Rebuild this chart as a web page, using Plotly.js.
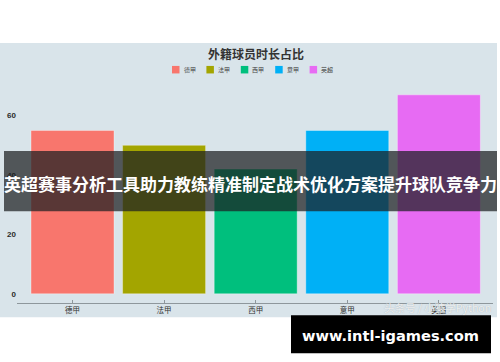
<!DOCTYPE html>
<html>
<head>
<meta charset="utf-8">
<script src="https://cdn.plot.ly/plotly-3.0.1.min.js"></script>
<style>
  html, body { margin: 0; padding: 0; background: #ffffff; }
  #chart { width: 500px; height: 362px; }
</style>
</head>
<body>
<div id="chart"></div>
<script>
// League names, their share of minutes played by foreign players, and bar colours
const leagues = ['德甲', '法甲', '西甲', '意甲', '英超'];
const shares = [55, 50, 42, 55, 67];
const leagueColors = ['#F8766D', '#A3A500', '#00BF7D', '#00B0F6', '#E76BF3'];
const yTicks = [0, 20, 40, 60];

const chartTitle = '外籍球员时长占比';
const bannerText = '英超赛事分析工具助力教练精准制定战术优化方案提升球队竞争力';
const siteText = 'www.intl-igames.com';
const creditText = '头条号 / 小猿学Python';

// Canvas geometry (pixels)
const W = 500, H = 362;
const M = { l: 17, r: 7, t: 80, b: 59.3 };
const plotW = W - M.l - M.r;
const plotH = H - M.t - M.b;
// pixel -> paper coordinate helpers
const px = x => (x - M.l) / plotW;
const py = y => (H - M.b - y) / plotH;

const CJK = '"Noto Sans CJK SC", "Noto Sans", sans-serif';

const shapes = [];
const annotations = [];

// light panel behind the whole chart
shapes.push({
  type: 'rect', xref: 'paper', yref: 'paper', layer: 'below',
  x0: px(0), x1: px(497), y0: py(317), y1: py(43),
  fillcolor: '#d9e4ea', line: { width: 0 }
});

// legend: one swatch + label per league
const legStart = 172, legStep = 34.4, sw = 7.5, legY = 69.7;
leagues.forEach((name, i) => {
  const x0 = legStart + i * legStep;
  shapes.push({
    type: 'rect', xref: 'paper', yref: 'paper',
    x0: px(x0), x1: px(x0 + sw), y0: py(legY + sw / 2), y1: py(legY - sw / 2),
    fillcolor: leagueColors[i], line: { width: 0 }
  });
  annotations.push({
    xref: 'paper', yref: 'paper', x: px(x0 + sw + 2), y: py(legY),
    xanchor: 'left', yanchor: 'middle', showarrow: false,
    text: name, font: { family: CJK, size: 6, color: '#444' }
  });
});

// dark translucent banner across the middle
shapes.push({
  type: 'rect', xref: 'paper', yref: 'paper', layer: 'above',
  x0: px(4), x1: px(497), y0: py(211), y1: py(151),
  fillcolor: 'rgba(28,30,33,0.72)', line: { width: 0 }
});
annotations.push({
  xref: 'paper', yref: 'paper', x: px(250.5), y: py(183),
  xanchor: 'center', yanchor: 'middle', showarrow: false,
  text: '<b>' + bannerText + '</b>',
  font: { family: CJK, size: 17, color: '#ffffff' }
});

// credit line near the lower right
annotations.push({
  xref: 'paper', yref: 'paper', x: px(437), y: py(307.5),
  xanchor: 'center', yanchor: 'middle', showarrow: false,
  text: creditText,
  font: { family: CJK, size: 10.5, color: 'rgba(255,255,255,0.8)', shadow: '0 0 1px #8d979c' }
});

// black site box at the bottom right
shapes.push({
  type: 'rect', xref: 'paper', yref: 'paper', layer: 'above',
  x0: px(291), x1: px(491), y0: py(353), y1: py(315),
  fillcolor: '#000000', line: { width: 0 }
});
annotations.push({
  xref: 'paper', yref: 'paper', x: px(390.5), y: py(335.5),
  xanchor: 'center', yanchor: 'middle', showarrow: false,
  text: '<b>' + siteText + '</b>',
  font: { family: '"DejaVu Sans", Verdana, sans-serif', size: 14.6, color: '#ffffff' }
});

const trace = {
  type: 'bar',
  x: leagues,
  y: shares,
  marker: { color: leagueColors, line: { color: 'rgba(255,255,255,0.35)', width: 1 } },
  hoverinfo: 'x+y',
  showlegend: false
};

const layout = {
  width: W, height: H,
  margin: M,
  paper_bgcolor: '#ffffff',
  plot_bgcolor: 'rgba(0,0,0,0)',
  showlegend: false,
  bargap: 0.094,
  title: {
    text: '<b>' + chartTitle + '</b>',
    font: { family: CJK, size: 12, color: '#333333' },
    x: px(256), xref: 'paper', xanchor: 'center',
    y: 1 - 54.3 / H, yref: 'container', yanchor: 'middle'
  },
  xaxis: {
    type: 'category',
    range: [-0.606, 4.591],
    showline: true, linecolor: '#8e979c', linewidth: 1,
    ticks: 'inside', ticklen: 3, tickcolor: '#8e979c',
    showgrid: false, zeroline: false,
    tickfont: { family: CJK, size: 7.5, color: '#333333' }
  },
  yaxis: {
    range: [-3.1, 72.0],
    tickvals: yTicks,
    ticktext: yTicks.map(v => '<b>' + v + '</b>'),
    showgrid: false, zeroline: false, showline: false,
    ticks: '', ticklabelstandoff: 0,
    tickfont: { family: '"Liberation Sans", Arial, sans-serif', size: 8, color: '#2b2b2b' }
  },
  shapes: shapes,
  annotations: annotations
};

Plotly.newPlot('chart', [trace], layout, { displayModeBar: false, staticPlot: true });
</script>
</body>
</html>
